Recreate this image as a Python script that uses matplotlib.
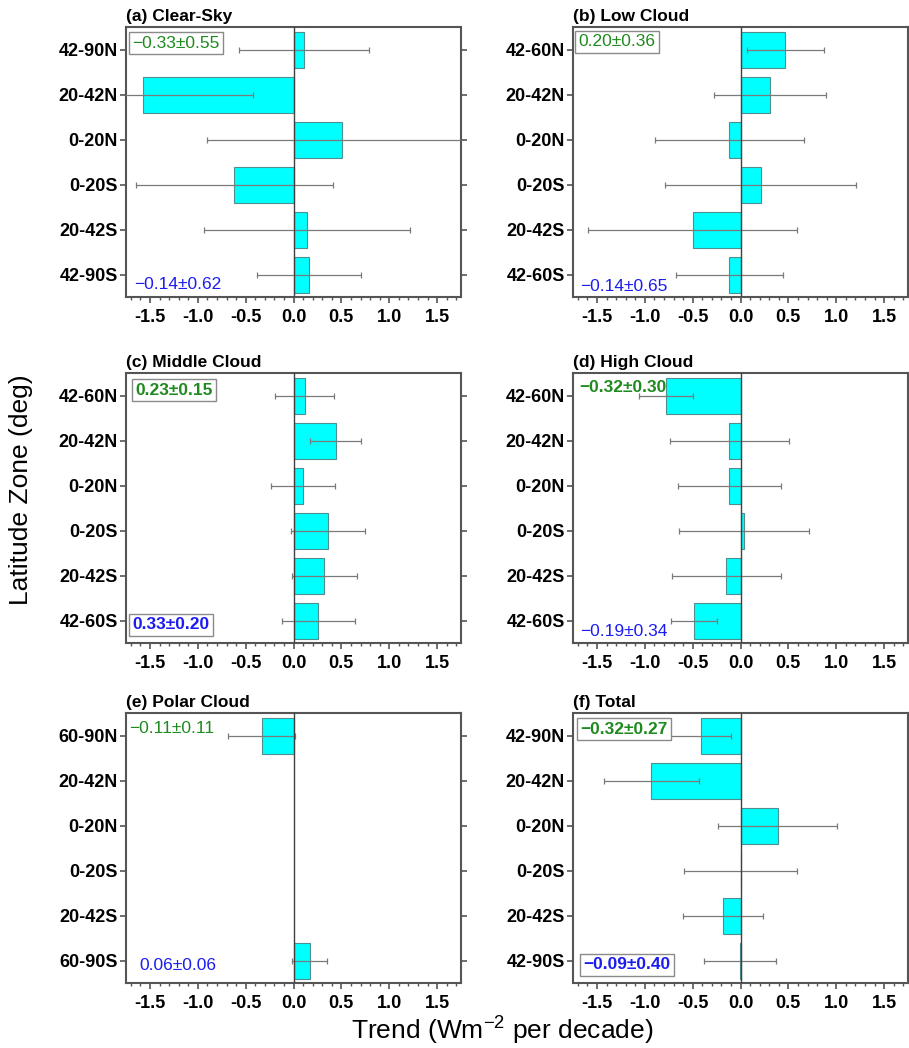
import numpy as np
import matplotlib
matplotlib.use("Agg")
import matplotlib.pyplot as plt
from matplotlib.ticker import AutoMinorLocator, MultipleLocator

plt.rcParams['font.family'] = ['Liberation Sans', 'DejaVu Sans']
plt.rcParams['mathtext.fontset'] = 'custom'
plt.rcParams['mathtext.rm'] = 'Liberation Sans'
plt.rcParams['mathtext.it'] = 'Liberation Sans:italic'
plt.rcParams['mathtext.bf'] = 'Liberation Sans:bold'

nan = np.nan

# latitude zones (top to bottom)
zones_90 = ['42-90N', '20-42N', '0-20N', '0-20S', '20-42S', '42-90S']
zones_60 = ['42-60N', '20-42N', '0-20N', '0-20S', '20-42S', '42-60S']
zones_polar = ['60-90N', '20-42N', '0-20N', '0-20S', '20-42S', '60-90S']

# trends and uncertainties (Wm-2 per decade)
clear_sky = [0.11, -1.57, 0.51, -0.62, 0.14, 0.16]
clear_sky_err = [0.68, 1.15, 1.41, 1.03, 1.08, 0.54]
low_cloud = [0.47, 0.31, -0.115, 0.21, -0.50, -0.115]
low_cloud_err = [0.40, 0.585, 0.78, 1.00, 1.09, 0.56]
mid_cloud = [0.115, 0.44, 0.10, 0.36, 0.32, 0.26]
mid_cloud_err = [0.31, 0.27, 0.33, 0.39, 0.34, 0.38]
high_cloud = [-0.78, -0.115, -0.115, 0.04, -0.15, -0.49]
high_cloud_err = [0.28, 0.62, 0.54, 0.68, 0.57, 0.24]
polar_cloud = [-0.33, nan, nan, nan, nan, 0.17]
polar_cloud_err = [0.35, nan, nan, nan, nan, 0.185]
total = [-0.415, -0.93, 0.39, 0.0, -0.18, -0.005]
total_err = [0.32, 0.50, 0.62, 0.59, 0.42, 0.38]

titles = ['(a) Clear-Sky', '(b) Low Cloud', '(c) Middle Cloud',
          '(d) High Cloud', '(e) Polar Cloud', '(f) Total']
nh_text = ['\u22120.33\u00b10.55', '0.20\u00b10.36', '0.23\u00b10.15',
           '\u22120.32\u00b10.30', '\u22120.11\u00b10.11', '\u22120.32\u00b10.27']
sh_text = ['\u22120.14\u00b10.62', '\u22120.14\u00b10.65', '0.33\u00b10.20',
           '\u22120.19\u00b10.34', '0.06\u00b10.06', '\u22120.09\u00b10.40']

panels = [
    (zones_90, clear_sky, clear_sky_err),
    (zones_60, low_cloud, low_cloud_err),
    (zones_60, mid_cloud, mid_cloud_err),
    (zones_60, high_cloud, high_cloud_err),
    (zones_polar, polar_cloud, polar_cloud_err),
    (zones_90, total, total_err),
]

# annotation style: (x, y, bold, boxed) for NH (top) and SH (bottom) text
nh_style = [(0.018, 0.94, False, True), (0.017, 0.945, False, True),
            (0.027, 0.936, True, True), (0.02, 0.948, True, False),
            (0.01, 0.943, False, False), (0.022, 0.94, True, True)]
sh_style = [(0.024, 0.045, False, False), (0.02, 0.04, False, False),
            (0.02, 0.068, True, True), (0.02, 0.043, False, False),
            (0.04, 0.064, False, False), (0.032, 0.068, True, True)]

W, H = 909, 1048
fig = plt.figure(figsize=(W / 100, H / 100), dpi=100)

lefts = [126, 573]
tops = [27, 373, 713]
aw, ah = 335, 270

green = '#1f8a1f'
blue = '#1c1cf0'
gray = '#555555'

for i, (zones, vals, errs) in enumerate(panels):
    r, c = divmod(i, 2)
    ax = fig.add_axes([lefts[c] / W, (H - tops[r] - ah) / H, aw / W, ah / H])
    y = np.arange(len(zones))
    ax.barh(y, vals, height=0.8, color='#00ffff', edgecolor='#4f8f8f',
            linewidth=0.8, zorder=2)
    ax.errorbar(vals, y, xerr=errs, fmt='none', ecolor='#7a7a7a',
                elinewidth=0.9, capsize=2, capthick=0.9, zorder=3)
    ax.axvline(0, color='#404040', lw=1.0, zorder=4)

    ax.set_xlim(-1.75, 1.75)
    ax.set_ylim(len(zones) - 0.5, -0.5)
    ax.set_yticks(y)
    ax.set_yticklabels(zones, fontweight='bold', fontsize=13)
    ax.xaxis.set_major_locator(MultipleLocator(0.5))
    ax.xaxis.set_minor_locator(AutoMinorLocator(5))
    ax.set_xticks([-1.5, -1.0, -0.5, 0.0, 0.5, 1.0, 1.5])
    ax.set_xticklabels(['-1.5', '-1.0', '-0.5', '0.0', '0.5', '1.0', '1.5'],
                       fontweight='bold', fontsize=13)
    ax.tick_params(axis='y', which='both', left=True, right=True,
                   direction='out', length=4, width=1.2, color=gray, pad=2)
    ax.tick_params(axis='x', which='major', direction='out', length=4,
                   width=1.2, color=gray, pad=5)
    ax.tick_params(axis='x', which='minor', direction='out', length=2,
                   width=1.0, color=gray)
    for s in ax.spines.values():
        s.set_color(gray)
        s.set_linewidth(1.5)

    ax.set_title(titles[i], loc='left', fontweight='bold', fontsize=12.5, pad=4)

    for txt, st, col in ((nh_text[i], nh_style[i], green),
                         (sh_text[i], sh_style[i], blue)):
        x0, y0, bold, boxed = st
        bbox = None
        if boxed:
            bbox = dict(boxstyle='square,pad=0.2', facecolor='white',
                        edgecolor='#8a8a8a', linewidth=1.0)
        ax.text(x0, y0, txt, transform=ax.transAxes, color=col,
                fontsize=12.5, fontweight='bold' if bold else 'normal',
                ha='left', va='center', bbox=bbox, zorder=6)

fig.text(21 / W, 1 - 490 / H, 'Latitude Zone (deg)', rotation=90,
         fontsize=19, ha='center', va='center')
fig.text(502 / W, 1 - 1031 / H, 'Trend (Wm$^{-2}$ per decade)',
         fontsize=19, ha='center', va='center')

fig.savefig('out.png', dpi=100)
